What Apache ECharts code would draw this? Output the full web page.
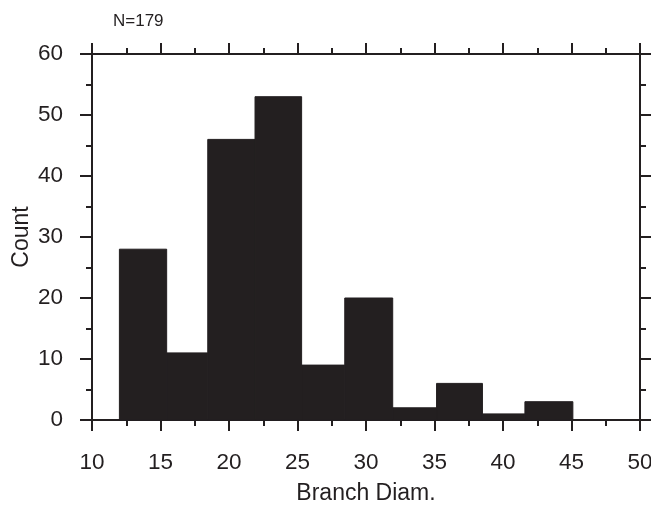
<!DOCTYPE html>
<html>
<head>
<meta charset="utf-8">
<script src="https://cdn.jsdelivr.net/npm/echarts@6/dist/echarts.min.js"></script>
<style>
  html, body { margin: 0; padding: 0; background: #fff; }
  #main { width: 651px; height: 505px; }
</style>
</head>
<body>
<div id="main"></div>
<script>
  // bin edges (Branch Diam.)
  var binEdges = [12, 15.45, 18.45, 21.9, 25.3, 28.45, 31.95, 35.15, 38.5, 41.6, 45.1];
  // counts per bin
  var counts = [28, 11, 46, 53, 9, 20, 2, 6, 1, 3];
  var xTicks = [10, 15, 20, 25, 30, 35, 40, 45, 50];
  var yTicks = [0, 10, 20, 30, 40, 50, 60];

  var ink = '#231f20';
  var font = '"Liberation Sans", Arial, Helvetica, sans-serif';

  var bars = [];
  for (var i = 0; i < counts.length; i++) {
    bars.push([binEdges[i], binEdges[i + 1], counts[i]]);
  }

  function axisStyle(show) {
    return {
      axisLine: { show: true, onZero: false, lineStyle: { color: ink, width: 2 } },
      axisTick: { show: true, length: 11, lineStyle: { color: ink, width: 2 } },
      minorTick: { show: true, splitNumber: 2, length: 6, lineStyle: { color: ink, width: 2 } },
      splitLine: { show: false },
      axisLabel: { show: show, color: ink, fontSize: 22.5, fontFamily: font }
    };
  }

  var chart = echarts.init(document.getElementById('main'));

  var xBottom = Object.assign({
    type: 'value', position: 'bottom',
    min: xTicks[0], max: xTicks[xTicks.length - 1], interval: 5,
    name: 'Branch Diam.', nameLocation: 'middle', nameGap: 62, nameMoveOverlap: false,
    nameTextStyle: { color: ink, fontSize: 23, fontFamily: font }
  }, axisStyle(true));
  xBottom.axisLabel.margin = 31;

  var xTop = Object.assign({
    type: 'value', position: 'top',
    min: xTicks[0], max: xTicks[xTicks.length - 1], interval: 5
  }, axisStyle(false));

  var yLeft = Object.assign({
    type: 'value', position: 'left',
    min: yTicks[0], max: yTicks[yTicks.length - 1], interval: 10,
    name: 'Count', nameLocation: 'middle', nameGap: 59, nameMoveOverlap: false,
    nameTextStyle: { color: ink, fontSize: 23, fontFamily: font }
  }, axisStyle(true));
  yLeft.axisTick.length = 12;
  yLeft.axisLabel.margin = 29;

  var yRight = Object.assign({
    type: 'value', position: 'right',
    min: yTicks[0], max: yTicks[yTicks.length - 1], interval: 10
  }, axisStyle(false));

  chart.setOption({
    animation: false,
    backgroundColor: '#fff',
    title: {
      text: 'N=179',
      left: 108, top: 8,
      textStyle: { color: ink, fontSize: 17, fontWeight: 'normal', fontFamily: font }
    },
    grid: { left: 92, right: 11, top: 54, bottom: 85, containLabel: false, outerBoundsMode: 'none' },
    xAxis: [xBottom, xTop],
    yAxis: [yLeft, yRight],
    series: [{
      type: 'custom',
      xAxisIndex: 0,
      yAxisIndex: 0,
      data: bars,
      encode: { x: [0, 1], y: 2 },
      renderItem: function (params, api) {
        var p0 = api.coord([api.value(0), api.value(2)]);
        var p1 = api.coord([api.value(1), 0]);
        return {
          type: 'rect',
          shape: { x: p0[0], y: p0[1], width: p1[0] - p0[0], height: p1[1] - p0[1] },
          style: { fill: ink, stroke: ink, lineWidth: 1 }
        };
      }
    }]
  });
</script>
</body>
</html>
